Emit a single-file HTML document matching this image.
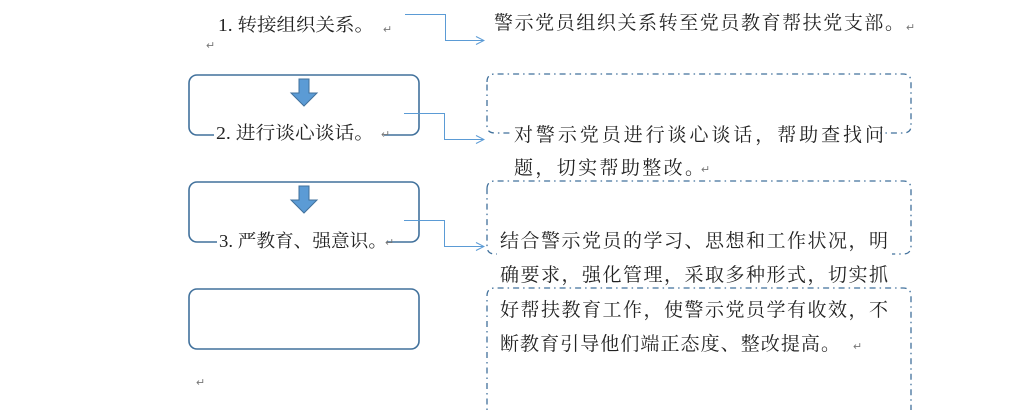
<!DOCTYPE html>
<html><head><meta charset="utf-8"><style>
html,body{margin:0;padding:0;background:#fff;}
svg{display:block;}
text{font-family:"Liberation Serif","Noto Serif CJK SC","Noto Sans CJK SC",serif;fill:#222;}
.r{font-size:19px;}
.l{font-size:18px;}
.m{font-size:11px;fill:#777;}
</style></head><body>
<svg width="1033" height="410" viewBox="0 0 1033 410" xmlns="http://www.w3.org/2000/svg">
<defs>
<marker id="a" markerWidth="10" markerHeight="10" refX="9" refY="5" orient="auto" markerUnits="userSpaceOnUse">
<path d="M1,1 L9,5 L1,9" fill="none" stroke="#5b9bd5" stroke-width="1"/>
</marker>
</defs>
<g fill="none" stroke="#41719c" stroke-width="1.6">
<rect x="189" y="75" width="230" height="60" rx="8"/>
<rect x="189" y="182" width="230" height="60" rx="8"/>
<rect x="189" y="289" width="230" height="60" rx="8"/>
</g>
<rect x="214" y="128" width="170" height="12" fill="#fff"/>
<rect x="217" y="235" width="170" height="12" fill="#fff"/>
<g fill="#5b9bd5" stroke="#41719c" stroke-width="1">
<path d="M299,79 H309 V93 H317 L304,106 L291,93 H299 Z"/>
<path d="M299,186 H309 V200 H317 L304,213 L291,200 H299 Z"/>
</g>
<g fill="none" stroke="#5b9bd5" stroke-width="1" marker-end="url(#a)">
<path d="M405,14.5 H445.5 V40.5 H484"/>
<path d="M404,113.5 H444.5 V139.5 H484"/>
<path d="M404,220.5 H444.5 V246.5 H484"/>
</g>
<g fill="none" stroke="#41719c" stroke-width="1.3" stroke-dasharray="6,4,1.5,4">
<path d="M487,82 Q487,74 495,74 H903 Q911,74 911,82 V126 Q911,133 903,133 H495 Q487,133 487,126 Z"/>
<path d="M487,189 Q487,181 495,181 H903 Q911,181 911,189 V246 Q911,254 903,254 H495 Q487,254 487,246 Z"/>
<path d="M487,420 V296 Q487,288 495,288 H903 Q911,288 911,296 V420"/>
</g>
<rect x="510" y="126" width="370" height="14" fill="#fff"/>
<rect x="497" y="247" width="395" height="10" fill="#fff"/>
<text class="l" x="218" y="31" textLength="156" lengthAdjust="spacingAndGlyphs">1. 转接组织关系。</text>
<text class="m" x="383" y="33">↵</text>
<text class="m" x="206" y="49">↵</text>
<text class="l" x="216" y="139" textLength="158" lengthAdjust="spacingAndGlyphs">2. 进行谈心谈话。</text>
<text class="m" x="381" y="138">↵</text>
<text class="l" x="219" y="247" textLength="168" lengthAdjust="spacingAndGlyphs">3. 严教育、强意识。</text>
<text class="m" x="385" y="246">↵</text>
<text class="m" x="196" y="386">↵</text>
<text class="r" x="494" y="29" textLength="410" lengthAdjust="spacing">警示党员组织关系转至党员教育帮扶党支部。</text>
<text class="m" x="906" y="31">↵</text>
<text class="r" x="514" y="141" textLength="370" lengthAdjust="spacing">对警示党员进行谈心谈话，帮助查找问</text>
<text class="r" x="514" y="174" textLength="190" lengthAdjust="spacing">题，切实帮助整改。</text>
<text class="m" x="701" y="173">↵</text>
<text class="r" x="500" y="247" textLength="388" lengthAdjust="spacing">结合警示党员的学习、思想和工作状况，明</text>
<text class="r" x="500" y="281" textLength="388" lengthAdjust="spacing">确要求，强化管理，采取多种形式，切实抓</text>
<text class="r" x="500" y="316" textLength="388" lengthAdjust="spacing">好帮扶教育工作，使警示党员学有收效，不</text>
<text class="r" x="500" y="350" textLength="340" lengthAdjust="spacing">断教育引导他们端正态度、整改提高。</text>
<text class="m" x="853" y="350">↵</text>
</svg>
</body></html>
